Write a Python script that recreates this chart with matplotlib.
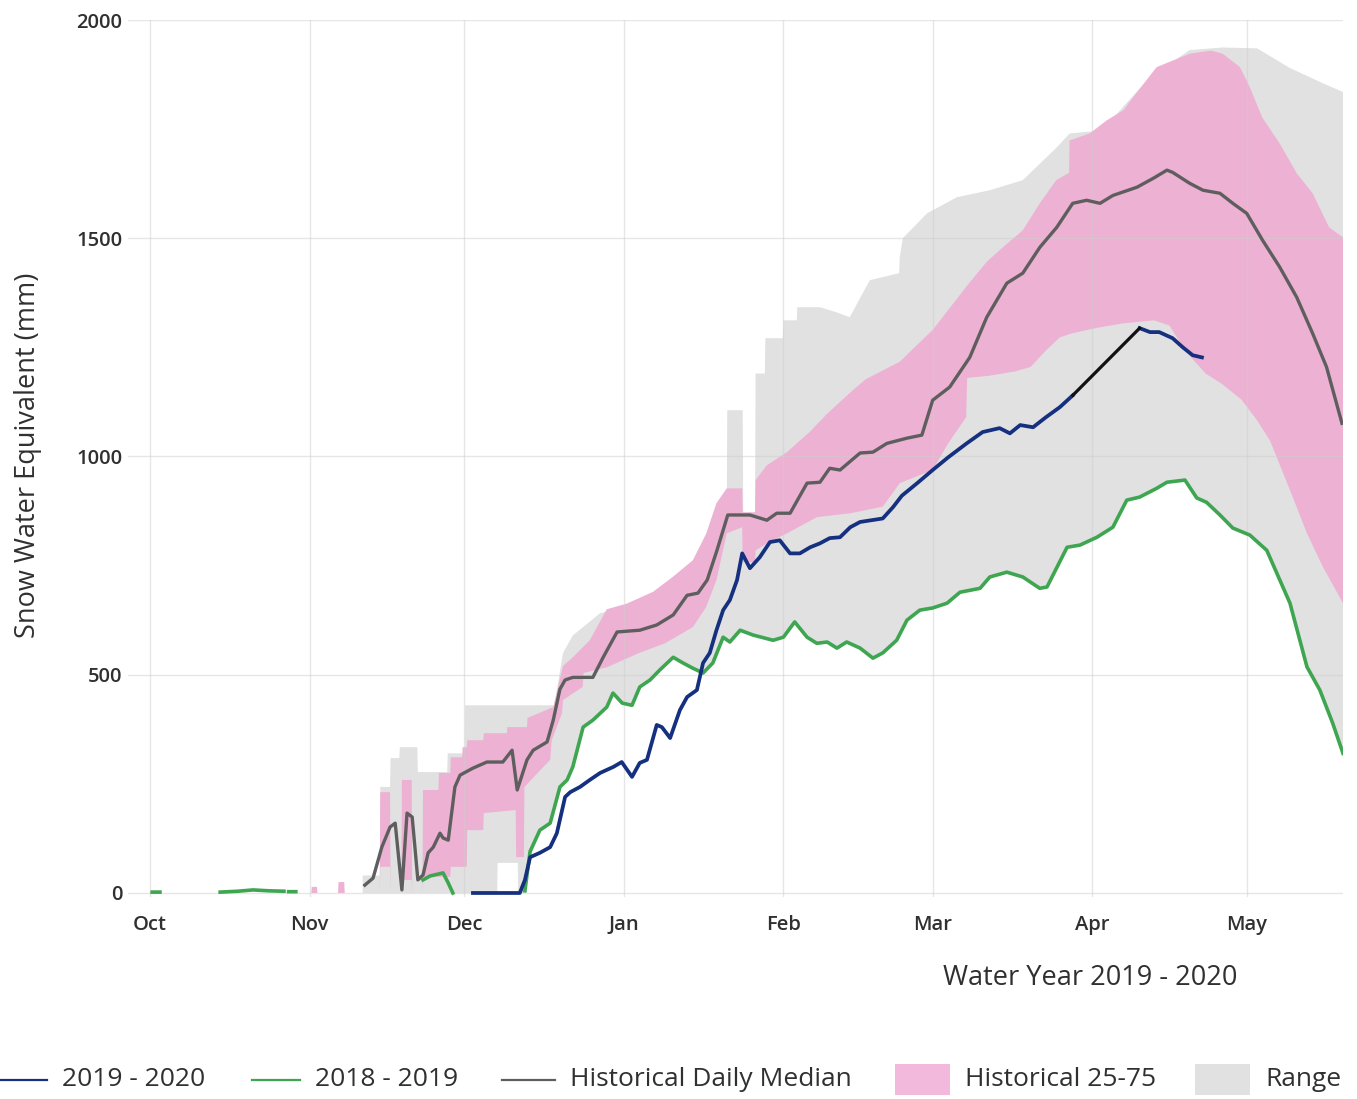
import numpy as np
import matplotlib
matplotlib.use("Agg")
import matplotlib.pyplot as plt
from matplotlib.lines import Line2D
from matplotlib.patches import Rectangle

plt.rcParams['font.family'] = ['Open Sans', 'DejaVu Sans']

# days counted from 1 Oct 2019, values in mm
month_days = [0, 31, 61, 92, 123, 152, 183, 213]
month_labels = ['Oct', 'Nov', 'Dec', 'Jan', 'Feb', 'Mar', 'Apr', 'May']

# historical range (upper edge)
range_hi = [(41.3, 40), (44.6, 40), (44.7, 243), (46.6, 243), (46.7, 309), (48.4, 309),
            (48.5, 334), (51.9, 334), (52.0, 277), (57.7, 277), (57.8, 320), (61.1, 320),
            (61.2, 430), (78.5, 430), (80.2, 550), (82.1, 590), (87.4, 641), (91.8, 655),
            (99.6, 694), (104.9, 755), (110.7, 831), (112.0, 870), (112.1, 1106), (115.1, 1106),
            (115.2, 872), (117.5, 872), (117.6, 1190), (119.4, 1190), (119.5, 1271),
            (122.9, 1271), (123.0, 1312), (125.6, 1312), (125.7, 1342), (130.1, 1342),
            (133.4, 1330), (135.9, 1319), (138.4, 1374), (139.8, 1404), (145.5, 1420),
            (145.6, 1456), (146.2, 1500), (150.9, 1557), (156.7, 1594), (163.1, 1610),
            (169.5, 1633), (176.1, 1708), (178.6, 1740), (185.0, 1747), (188.9, 1800),
            (194.2, 1869), (201.9, 1931), (208.3, 1937), (215.0, 1935), (221.4, 1890),
            (227.8, 1855), (231.7, 1835)]

# historical range (lower edge) before the 2018-2019 line takes over
range_lo_early = [(41.3, 0), (67.4, 0), (67.5, 69), (71.4, 69), (71.5, 0), (72.7, 0)]

# historical 75th percentile
pct75 = [(31.3, 0), (31.4, 14), (32.4, 14), (32.5, 0), (36.5, 0), (36.6, 25), (37.7, 25),
         (37.8, 0), (44.6, 0), (44.7, 231), (46.6, 231), (46.7, 0), (48.8, 0), (48.9, 259),
         (50.8, 259), (50.9, 0), (52.9, 0), (53.0, 236), (56.0, 236), (56.1, 275), (58.3, 275),
         (58.4, 311), (60.6, 311), (60.7, 334), (61.5, 334), (61.6, 350), (64.7, 350),
         (64.8, 366), (69.3, 366), (69.4, 380), (73.2, 380), (73.3, 401), (78.3, 426),
         (80.2, 520), (82.1, 540), (85.4, 579), (88.7, 650), (92.6, 663), (97.7, 690),
         (101.6, 725), (105.4, 762), (108.0, 823), (110.0, 893), (112.0, 927), (115.0, 927),
         (115.1, 872), (117.5, 872), (117.6, 946), (119.8, 980), (123.7, 1010), (128.0, 1055),
         (131.5, 1098), (136.5, 1152), (139.0, 1177), (145.6, 1217), (152.0, 1290),
         (158.6, 1390), (162.5, 1446), (165.6, 1479), (169.5, 1518), (172.8, 1580),
         (176.0, 1633), (178.5, 1650), (178.6, 1724), (182.5, 1740), (185.8, 1770),
         (189.0, 1793), (192.0, 1839), (195.5, 1892), (198.6, 1907), (202.0, 1923),
         (206.0, 1930), (208.3, 1923), (211.7, 1892), (213.6, 1846), (216.0, 1777),
         (219.4, 1717), (222.7, 1649), (225.8, 1603), (229.0, 1525), (231.7, 1502)]

# historical 25th percentile
pct25 = [(31.3, 0), (44.6, 0), (44.7, 60), (46.6, 60), (46.7, 0), (48.8, 0), (48.9, 30),
         (50.8, 30), (50.9, 0), (52.9, 0), (53.0, 37), (58.3, 37), (58.4, 60), (61.5, 60),
         (61.6, 144), (64.7, 144), (64.8, 183), (71.0, 190), (71.1, 82), (72.6, 82),
         (72.7, 243), (77.7, 305), (78.0, 350), (80.0, 412), (80.2, 442), (84.0, 472),
         (84.2, 504), (88.7, 517), (95.0, 550), (100.0, 572), (105.4, 609), (108.0, 655),
         (110.0, 717), (112.0, 824), (115.0, 838), (115.1, 758), (117.5, 758), (117.6, 785),
         (119.8, 801), (123.7, 824), (129.5, 861), (136.0, 870), (142.3, 885), (145.6, 939),
         (152.0, 969), (155.0, 1030), (158.5, 1090), (158.7, 1180), (163.0, 1185),
         (168.0, 1195), (171.0, 1205), (174.0, 1243), (176.7, 1273), (179.0, 1282),
         (184.0, 1295), (189.0, 1305), (195.0, 1312), (198.0, 1300), (201.0, 1243),
         (205.0, 1190), (208.0, 1168), (212.0, 1130), (215.0, 1083), (217.5, 1037),
         (221.4, 923), (224.7, 824), (227.8, 747), (231.7, 664)]

# historical daily median
median = [(41.7, 18), (43.3, 34), (45.0, 105), (46.6, 151), (47.6, 160), (48.9, 7),
          (49.9, 183), (50.9, 174), (52.0, 30), (53.0, 41), (54.0, 92), (55.0, 105),
          (56.3, 137), (56.9, 126), (57.9, 121), (59.2, 243), (60.2, 270), (62.7, 286),
          (65.4, 300), (68.5, 300), (70.3, 327), (71.3, 236), (73.2, 305), (74.4, 327),
          (77.1, 346), (78.3, 396), (79.6, 467), (80.6, 488), (82.1, 494), (86.0, 494),
          (88.0, 540), (90.7, 598), (95.1, 602), (98.4, 614), (101.6, 637), (104.3, 682),
          (106.4, 687), (108.2, 717), (110.1, 785), (112.2, 866), (116.5, 866), (119.8, 854),
          (121.7, 870), (124.3, 870), (127.6, 939), (130.1, 941), (132.0, 973), (134.0, 969),
          (137.9, 1008), (140.4, 1010), (143.1, 1030), (147.0, 1042), (149.9, 1049),
          (152.0, 1129), (155.3, 1159), (159.2, 1227), (162.5, 1319), (166.4, 1397),
          (169.5, 1420), (172.8, 1479), (176.1, 1525), (179.2, 1580), (181.9, 1587),
          (184.5, 1580), (187.0, 1598), (191.7, 1617), (194.8, 1637), (197.5, 1656),
          (198.6, 1651), (201.9, 1626), (204.5, 1610), (207.8, 1603), (210.3, 1580),
          (213.0, 1557), (216.1, 1495), (219.4, 1434), (222.7, 1365), (225.8, 1282),
          (228.5, 1205), (231.5, 1076)]

# 2018 - 2019 season (nan = no data)
swe_2019 = [(0.4, 2), (1.9, 2), (2.0, np.nan), (13.6, 2), (17.0, 4), (20.0, 7), (23.0, 5),
            (26.0, 4), (26.5, np.nan), (26.9, 3), (28.3, 3), (28.5, np.nan), (53.0, 30),
            (54.4, 39), (56.9, 46), (57.9, 23), (58.8, 0), (59.0, np.nan), (72.8, 5),
            (73.8, 95), (75.7, 144), (77.7, 160), (79.6, 243), (81.0, 259), (82.1, 289),
            (84.1, 380), (86.0, 396), (88.7, 426), (89.9, 458), (91.7, 435), (93.6, 430),
            (95.1, 472), (97.1, 488), (99.0, 511), (101.6, 540), (103.5, 527), (105.4, 515),
            (107.4, 504), (109.3, 527), (111.3, 586), (112.6, 575), (114.6, 602), (117.1, 591),
            (121.0, 579), (123.0, 586), (125.2, 621), (127.6, 586), (129.5, 572), (131.5, 575),
            (133.4, 561), (135.3, 575), (137.9, 561), (140.4, 538), (142.3, 550), (145.0, 579),
            (147.0, 625), (149.5, 648), (152.0, 653), (154.8, 664), (157.3, 689), (161.2, 698),
            (163.1, 724), (166.4, 735), (169.5, 724), (172.8, 698), (174.2, 701), (178.1, 792),
            (180.6, 797), (183.9, 815), (187.0, 838), (189.7, 900), (192.2, 907), (195.5, 927),
            (197.5, 941), (201.0, 946), (203.3, 905), (205.2, 895), (207.8, 866), (210.3, 836),
            (213.6, 820), (216.9, 785), (221.4, 664), (224.7, 518), (227.2, 465), (229.7, 389),
            (231.7, 320)]

# 2019 - 2020 season, gap filled by an estimate line
swe_2020 = [(62.7, 0), (71.8, 0), (72.8, 30), (73.8, 82), (75.7, 92), (77.7, 105), (79.0, 137),
            (80.6, 220), (81.6, 231), (83.5, 243), (85.4, 259), (87.4, 275), (90.0, 289),
            (91.6, 300), (93.6, 266), (95.1, 298), (96.5, 305), (98.4, 385), (99.4, 380),
            (101.0, 355), (102.9, 419), (104.3, 449), (106.2, 465), (107.4, 527), (108.7, 550),
            (110.0, 602), (111.3, 648), (112.6, 671), (114.0, 717), (115.0, 778), (116.5, 744),
            (118.4, 769), (120.4, 804), (122.3, 808), (124.3, 778), (126.2, 778), (128.2, 792),
            (130.1, 801), (132.0, 813), (134.0, 815), (136.0, 838), (137.9, 850), (142.3, 858),
            (144.3, 884), (146.0, 910), (149.0, 939), (152.0, 969), (155.0, 998), (158.6, 1030),
            (161.7, 1056), (165.0, 1065), (167.0, 1053), (169.0, 1072), (171.5, 1067),
            (174.0, 1090), (176.7, 1113), (179.2, 1140), (185.0, np.nan), (192.2, 1294),
            (194.2, 1285), (196.0, 1285), (198.6, 1271), (200.6, 1250), (202.5, 1232),
            (204.3, 1227)]
estimate = [(179.2, 1140), (192.2, 1294)]


def xy(pairs):
    a = np.array(pairs, dtype=float)
    return a[:, 0], a[:, 1]


def band(ax, hi, lo, color):
    hd, hv = xy(hi)
    ld, lv = xy(lo)
    ax.fill(np.r_[hd, ld[::-1]], np.r_[hv, lv[::-1]], color=color, lw=0)


W, H = 1357, 1099
fig = plt.figure(figsize=(W / 100, H / 100), dpi=100)
ax = fig.add_axes([128 / W, 1 - 897 / H, (1343 - 128) / W, (897 - 20) / H])

grey = '#e1e1e1'
pink = '#edb1d3'
c2020 = '#15307f'
c2019 = '#3ea650'
cmed = '#5e5e5e'
txt = '#303030'

# range: upper edge, lower edge follows the 2018-2019 season
d19, v19 = xy(swe_2019)
keep = d19 >= 72.8
range_lo = range_lo_early + list(zip(d19[keep], v19[keep]))
band(ax, range_hi, range_lo, grey)
band(ax, pct75, pct25, pink)

d, v = xy(median)
ax.plot(d, v, color=cmed, lw=2.4, solid_joinstyle='round')
ax.plot(d19, v19, color=c2019, lw=2.6, solid_joinstyle='round')
d, v = xy(swe_2020)
ax.plot(d, v, color=c2020, lw=2.7, solid_joinstyle='round')
d, v = xy(estimate)
ax.plot(d, v, color='#111111', lw=2.3)

ax.set_xlim(-4.3, 231.7)
ax.set_ylim(-9.2, 2000)
ax.set_xticks(month_days)
ax.set_xticklabels(month_labels)
ax.set_yticks([0, 500, 1000, 1500, 2000])
ax.tick_params(length=0, labelsize=14.5, colors=txt)
ax.tick_params(axis='x', pad=13)
ax.tick_params(axis='y', pad=4)
for lab in ax.get_xticklabels() + ax.get_yticklabels():
    lab.set_fontweight('semibold')
for s in ax.spines.values():
    s.set_visible(False)
ax.set_axisbelow('line')
ax.grid(True, color='#cfcfcf', alpha=0.5, lw=1)

fig.text(28 / W, 1 - 455 / H, 'Snow Water Equivalent (mm)', rotation=90,
         ha='center', va='center', fontsize=19.5, color=txt)
fig.text(1090 / W, 1 - 978 / H, 'Water Year 2019 - 2020', ha='center', va='center',
         fontsize=19.5, color=txt)

# legend along the bottom
ly = 1 - 1080 / H
entries = [('line', c2020, 0, 47, 62, '2019 - 2020'),
           ('line', c2019, 252, 300, 315, '2018 - 2019'),
           ('line', cmed, 502, 555, 570, 'Historical Daily Median'),
           ('box', '#f3b9dc', 895, 950, 965, 'Historical 25-75'),
           ('box', grey, 1195, 1250, 1265, 'Range')]
for kind, col, x0, x1, xt, label in entries:
    if kind == 'line':
        fig.add_artist(Line2D([x0 / W, x1 / W], [ly, ly], transform=fig.transFigure,
                              color=col, lw=1.6))
    else:
        fig.add_artist(Rectangle((x0 / W, 1 - 1095 / H), (x1 - x0) / W, 31 / H,
                                 transform=fig.transFigure, color=col, lw=0))
    fig.text(xt / W, ly, label, ha='left', va='center', fontsize=19, color=txt)

fig.savefig('out.png', dpi=100)
